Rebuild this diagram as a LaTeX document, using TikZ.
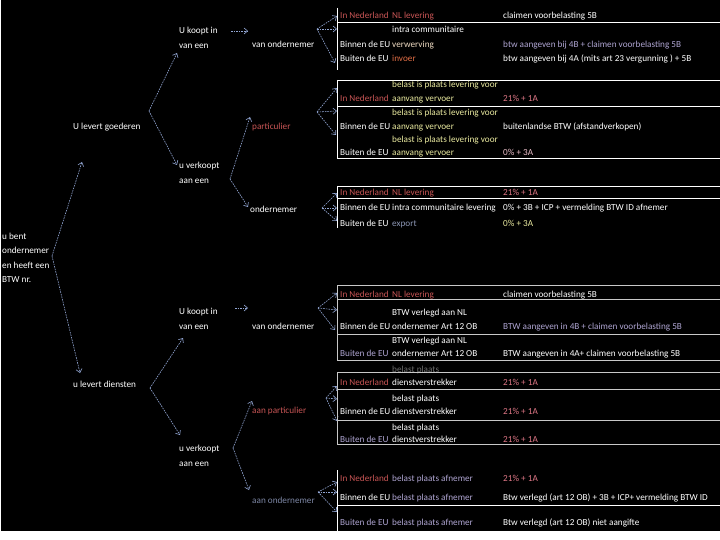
\documentclass[tikz,border=0pt]{standalone}
\usepackage{fontspec}
\setmainfont{Carlito}
\usetikzlibrary{arrows.meta}
\definecolor{cred}{RGB}{200,85,85}
\definecolor{cpink}{RGB}{225,120,135}
\definecolor{cpink2}{RGB}{235,190,200}
\definecolor{cyel}{RGB}{235,235,160}
\definecolor{clav}{RGB}{175,165,210}
\definecolor{corange}{RGB}{225,110,70}
\definecolor{cpeach}{RGB}{240,220,195}
\definecolor{cgb}{RGB}{140,150,180}
\definecolor{cdim}{RGB}{125,135,165}
\definecolor{arrowc}{RGB}{145,165,210}
\definecolor{cgrayline}{RGB}{200,200,200}
\definecolor{chidden}{RGB}{110,110,110}
\begin{document}
\begin{tikzpicture}[x=1pt,y=-1pt,
  txt/.style={anchor=base west,inner sep=0pt,font=\fontsize{9.2}{14.5}\selectfont,text=white},
  mtxt/.style={anchor=west,inner sep=0pt,font=\fontsize{9.2}{14.5}\selectfont,text=white,align=left},
  conn/.style={draw=arrowc,line width=0.6pt,dash pattern=on 1.6pt off 1pt,-{Straight Barb[length=3.5pt,width=6pt,line width=0.6pt]}},
  rule/.style={draw=white,line width=0.8pt},
  grule/.style={draw=cgrayline,line width=0.8pt}]
\useasboundingbox (0,0) rectangle (720,540);
\fill[white] (0,0) rectangle (720,540);
\fill[black] (1,0) rectangle (720,531);

% ---------- tree nodes ----------
\node[mtxt] (root) at (2,258) {u bent\\ondernemer\\en heeft een\\BTW nr.};
\node[txt] (goed) at (73,130) {U levert goederen};
\node[mtxt] (koop1) at (179,38) {U koopt in\\van een};
\node[mtxt] (verk1) at (179,173) {u verkoopt\\aan een};
\node[txt] (vond1) at (252,48) {van ondernemer};
\node[txt,text=cred] (part1) at (252,130) {particulier};
\node[txt] (ond1) at (250,212) {ondernemer};
\node[txt] (dien) at (73,387) {u levert diensten};
\node[mtxt] (koop2) at (179,319) {U koopt in\\van een};
\node[mtxt] (verk2) at (179,456) {u verkoopt\\aan een};
\node[txt] (vond2) at (252,329) {van ondernemer};
\node[txt,text=cred] (part2) at (252,413) {aan particulier};
\node[txt,text=cdim] (ond2) at (252,503) {aan ondernemer};

% ---------- connector points ----------
\coordinate (rv) at (52,256);
\coordinate (rg) at (82,162);
\coordinate (rd) at (80,373);
\coordinate (gv) at (149,111);
\coordinate (gk) at (177,53);
\coordinate (gs) at (177,165);
\coordinate (k1s) at (231,31);
\coordinate (k1e) at (248,31);
\coordinate (v1v) at (230,179);
\coordinate (v1p) at (250,117);
\coordinate (v1o) at (248,207);
\coordinate (dv) at (150,388);
\coordinate (dk) at (183,338);
\coordinate (ds) at (180,435);
\coordinate (k2s) at (235,308);
\coordinate (k2e) at (248,308);
\coordinate (v2v) at (233,448);
\coordinate (v2p) at (252,401);
\coordinate (v2o) at (249,490);
% fan-outs
\coordinate (f1) at (317,29);
\coordinate (f1a) at (337,16);
\coordinate (f1b) at (337,29);
\coordinate (f1c) at (335,63);
\coordinate (f2) at (317,112);
\coordinate (f2a) at (337,88);
\coordinate (f2b) at (337,111);
\coordinate (f2c) at (336,135);
\coordinate (f3) at (322,208);
\coordinate (f3a) at (337,193);
\coordinate (f3b) at (337,208);
\coordinate (f3c) at (337,221);
\coordinate (f4) at (318,308);
\coordinate (f4a) at (337,293);
\coordinate (f4b) at (337,310);
\coordinate (f4c) at (335,330);
\coordinate (f5) at (326,398);
\coordinate (f5a) at (337,386);
\coordinate (f5b) at (337,399);
\coordinate (f5c) at (337,421);
\coordinate (f6) at (318,492);
\coordinate (f6a) at (337,482);
\coordinate (f6b) at (337,492);
\coordinate (f6c) at (337,512);

\draw[conn] (rv) -- (rg);
\draw[conn] (rv) -- (rd);
\draw[conn] (gv) -- (gk);
\draw[conn] (gv) -- (gs);
\draw[conn] (k1s) -- (k1e);
\draw[conn] (v1v) -- (v1p);
\draw[conn] (v1v) -- (v1o);
\draw[conn] (dv) -- (dk);
\draw[conn] (dv) -- (ds);
\draw[conn] (k2s) -- (k2e);
\draw[conn] (v2v) -- (v2p);
\draw[conn] (v2v) -- (v2o);
\foreach \f in {f1,f2,f3,f4,f5,f6}{
  \draw[conn] (\f) -- (\f a);
  \draw[conn] (\f) -- (\f b);
  \draw[conn] (\f) -- (\f c);
}

% ---------- table rules ----------
\draw[rule] (337,8) -- (337,70);
\draw[rule] (337,22) -- (720,22);
\draw[rule] (337,80) -- (720,80);
\draw[rule] (337,80) -- (337,158);
\draw[rule] (337,106) -- (720,106);
\draw[rule] (337,158) -- (720,158);
\draw[rule] (337,186) -- (720,186);
\draw[rule] (337,198) -- (720,198);
\draw[rule] (337,186) -- (337,228);
\draw[grule] (337,285) -- (720,285);
\draw[grule] (337,299) -- (720,299);
\draw[grule] (337,334) -- (720,334);
\draw[grule] (337,360) -- (720,360);
\draw[grule] (337,285) -- (337,360);
\draw[grule] (337,389) -- (720,389);
\draw[grule] (337,420) -- (720,420);
\draw[grule] (337,444) -- (720,444);
\draw[grule] (337,372) -- (337,444);
\draw[rule] (337,470) -- (337,531);
\draw[rule] (337,505) -- (720,505);

% ---------- table 1 ----------
\node[txt,text=cred] (t1a) at (340,19) {In Nederland};
\node[txt,text=cred] (t1b) at (392,19) {NL levering};
\node[txt] (t1c) at (503,19) {claimen voorbelasting 5B};
\node[txt] (t1d) at (392,33) {intra communitaire};
\node[txt] (t1e) at (340,48) {Binnen de EU};
\node[txt,text=cpeach] (t1f) at (392,48) {verwerving};
\node[txt,text=clav] (t1g) at (503,48) {btw aangeven bij 4B + claimen voorbelasting 5B};
\node[txt] (t1h) at (340,62) {Buiten de EU};
\node[txt,text=corange] (t1i) at (392,62) {invoer};
\node[txt] (t1j) at (503,62) {btw aangeven bij 4A (mits art 23 vergunning ) + 5B};

% ---------- table 2 ----------
\node[txt,text=cyel] (t2a) at (392,88) {belast is plaats levering voor};
\node[txt,text=cred] (t2b) at (340,102) {In Nederland};
\node[txt,text=cyel] (t2c) at (392,102) {aanvang vervoer};
\node[txt,text=cpink] (t2d) at (503,102) {21\% + 1A};
\node[txt,text=cyel] (t2e) at (392,116) {belast is plaats levering voor};
\node[txt] (t2f) at (340,130) {Binnen de EU};
\node[txt,text=cyel] (t2g) at (392,130) {aanvang vervoer};
\node[txt] (t2h) at (503,130) {buitenlandse BTW (afstandverkopen)};
\node[txt,text=cyel] (t2i) at (392,143) {belast is plaats levering voor};
\node[txt] (t2j) at (340,156) {Buiten de EU};
\node[txt,text=cyel] (t2k) at (392,156) {aanvang vervoer};
\node[txt,text=cpink2] (t2l) at (503,156) {0\% + 3A};

% ---------- table 3 ----------
\node[txt,text=cred] (t3a) at (340,196) {In Nederland};
\node[txt,text=cred] (t3b) at (392,196) {NL levering};
\node[txt,text=cpink] (t3c) at (503,196) {21\% + 1A};
\node[txt] (t3d) at (340,211) {Binnen de EU};
\node[txt] (t3e) at (392,211) {intra communitaire levering};
\node[txt] (t3f) at (503,211) {0\% + 3B + ICP + vermelding BTW ID afnemer};
\node[txt] (t3g) at (340,226) {Buiten de EU};
\node[txt,text=cgb] (t3h) at (392,226) {export};
\node[txt,text=cyel] (t3i) at (503,226) {0\% + 3A};

% ---------- table 4 ----------
\node[txt,text=cred] (t4a) at (340,297) {In Nederland};
\node[txt,text=cred] (t4b) at (392,297) {NL levering};
\node[txt] (t4c) at (503,297) {claimen voorbelasting 5B};
\node[txt] (t4d) at (392,315) {BTW verlegd aan NL};
\node[txt] (t4e) at (340,329) {Binnen de EU};
\node[txt] (t4f) at (392,329) {ondernemer Art 12 OB};
\node[txt,text=clav] (t4g) at (503,329) {BTW aangeven in 4B + claimen voorbelasting 5B};
\node[txt] (t4h) at (392,343) {BTW verlegd aan NL};
\node[txt,text=clav] (t4i) at (340,356) {Buiten de EU};
\node[txt] (t4j) at (392,356) {ondernemer Art 12 OB};
\node[txt] (t4k) at (503,356) {BTW aangeven in 4A+ claimen voorbelasting 5B};

% ---------- table 5 ----------
\node[txt,text=chidden] (t5z) at (392,372) {belast plaats};
\draw[grule] (337,372) -- (720,372);
\node[txt,text=cred] (t5a) at (340,385) {In Nederland};
\node[txt] (t5b) at (392,385) {dienstverstrekker};
\node[txt,text=cpink] (t5c) at (503,385) {21\% + 1A};
\node[txt] (t5d) at (392,401) {belast plaats};
\node[txt] (t5e) at (340,414) {Binnen de EU};
\node[txt] (t5f) at (392,414) {dienstverstrekker};
\node[txt,text=cpink] (t5g) at (503,414) {21\% + 1A};
\node[txt] (t5h) at (392,430) {belast plaats};
\node[txt,text=clav] (t5i) at (340,442) {Buiten de EU};
\node[txt] (t5j) at (392,442) {dienstverstrekker};
\node[txt,text=cpink] (t5k) at (503,442) {21\% + 1A};

% ---------- table 6 ----------
\node[txt,text=cred] (t6a) at (340,481) {In Nederland};
\node[txt,text=clav] (t6b) at (392,481) {belast plaats afnemer};
\node[txt,text=cpink] (t6c) at (503,481) {21\% + 1A};
\node[txt] (t6d) at (340,500) {Binnen de EU};
\node[txt,text=clav] (t6e) at (392,500) {belast plaats afnemer};
\node[txt] (t6f) at (503,500) {Btw verlegd (art 12 OB) + 3B + ICP+ vermelding BTW ID};
\node[txt,text=clav] (t6g) at (340,525) {Buiten de EU};
\node[txt,text=clav] (t6h) at (392,525) {belast plaats afnemer};
\node[txt] (t6i) at (503,525) {Btw verlegd (art 12 OB) niet aangifte};
\end{tikzpicture}
\end{document}
